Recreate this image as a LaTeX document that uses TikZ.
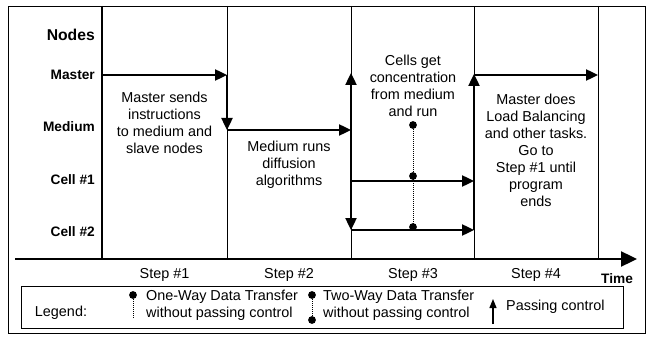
\documentclass[tikz,border=0pt]{standalone}
\usepackage{fontspec}
\setmainfont{Liberation Sans}
\usetikzlibrary{arrows.meta}
\begin{document}
\begin{tikzpicture}[x=1pt,y=-1pt,
  txt/.style={font=\fontsize{14.4}{17}\selectfont,align=center,inner sep=0pt},
  lbl/.style={font=\bfseries\fontsize{13.7}{16}\selectfont,anchor=east,inner sep=0pt},
  thin/.style={line width=0.9pt},
  flow/.style={line width=2.4pt,-{Triangle[length=12pt,width=11pt]}},
  bar/.style={line width=2.4pt},
  dotline/.style={line width=0.8pt,dash pattern=on 0.8pt off 1.2pt},
  dotmark/.style={fill=black}]
\useasboundingbox (0,0) rectangle (649,337);
% frame
\draw[thin] (8,6) rectangle (645,333);
% axes
\coordinate (ytop) at (102,6);
\coordinate (ybot) at (102,259);
\coordinate (t0) at (15,259);
\coordinate (t1) at (637,259);
\draw[bar] (ytop) -- (ybot);
\draw[line width=2.4pt,-{Triangle[length=16pt,width=15pt]}] (t0) -- (t1);
% step separators
\foreach \i/\x in {1/227,2/351,3/474,4/598}{
  \coordinate (s\i t) at (\x,6);
  \coordinate (s\i b) at (\x,259);
  \draw[thin] (s\i t) -- (s\i b);
}
% row labels
\node[lbl,font=\bfseries\fontsize{15.7}{18}\selectfont] (lnodes) at (95,35) {Nodes};
\node[lbl] (lmaster) at (95,75) {Master};
\node[lbl] (lmedium) at (95,127) {Medium};
\node[lbl] (lcell1) at (95,180) {Cell \#1};
\node[lbl] (lcell2) at (95,232) {Cell \#2};
% flow coordinates
\coordinate (m0) at (102,75);
\coordinate (m1) at (227,75);
\coordinate (d1) at (227,130);
\coordinate (d2) at (351,130);
\coordinate (u1) at (351,73);
\coordinate (u2) at (351,230);
\coordinate (c1a) at (351,181);
\coordinate (c1b) at (474,181);
\coordinate (c2a) at (351,230);
\coordinate (c2b) at (474,230);
\coordinate (u3) at (474,74);
\coordinate (m2) at (474,75);
\coordinate (m3) at (598,75);
% flows
\draw[flow] (m0) -- (m1);
\draw[flow] (m1) -- (d1);
\draw[flow] (d1) -- (d2);
\draw[flow] (d2) -- (u1);
\draw[flow] (d2) -- (u2);
\draw[flow] (c1a) -- (c1b);
\draw[flow] (c2a) -- (c2b);
\draw[flow] (c2b) -- (u3);
\draw[flow] (m2) -- (m3);
% data transfer in step 3
\coordinate (p0) at (413,125);
\coordinate (p1) at (413,176);
\coordinate (p2) at (413,227);
\draw[dotline] (p0) -- (p2);
\fill[dotmark] (p0) circle (3.9);
\fill[dotmark] (p1) circle (3.9);
\fill[dotmark] (p2) circle (3.9);
% step texts
\node[txt] (t1txt) at (164.5,122.5) {Master sends\\instructions\\to medium and\\slave nodes};
\node[txt] (t2txt) at (289,164.5) {Medium runs\\diffusion\\algorithms};
\node[txt] (t3txt) at (413,86) {Cells get\\concentration\\from medium\\and run};
\node[txt] (t4txt) at (536,150) {Master does\\Load Balancing\\and other tasks.\\Go to\\Step \#1 until\\program\\ends};
% step labels
\node[txt] (st1) at (164.5,275) {Step \#1};
\node[txt] (st2) at (289,275) {Step \#2};
\node[txt] (st3) at (413,275) {Step \#3};
\node[txt] (st4) at (536,275) {Step \#4};
\node[lbl,anchor=center] (time) at (617,279) {Time};
% legend
\draw[thin] (21,286) rectangle (623,328);
\node[txt] (leg) at (61,313) {Legend:};
\coordinate (a0) at (133,295);
\coordinate (a1) at (133,318);
\draw[dotline] (a0) -- (a1);
\fill[dotmark] (a0) circle (3.9);
\node[txt,anchor=west,align=left] (leg1) at (146,305) {One-Way Data Transfer\\without passing control};
\coordinate (b0) at (312,295);
\coordinate (b1) at (312,320);
\draw[dotline] (b0) -- (b1);
\fill[dotmark] (b0) circle (3.9);
\fill[dotmark] (b1) circle (3.9);
\node[txt,anchor=west,align=left] (leg2) at (323,305) {Two-Way Data Transfer\\without passing control};
\coordinate (e0) at (493,324);
\coordinate (e1) at (493,299);
\draw[line width=1.2pt,-{Triangle[length=9pt,width=7pt]}] (e0) -- (e1);
\node[txt,anchor=west] (leg3) at (506,307) {Passing control};
\end{tikzpicture}
\end{document}
